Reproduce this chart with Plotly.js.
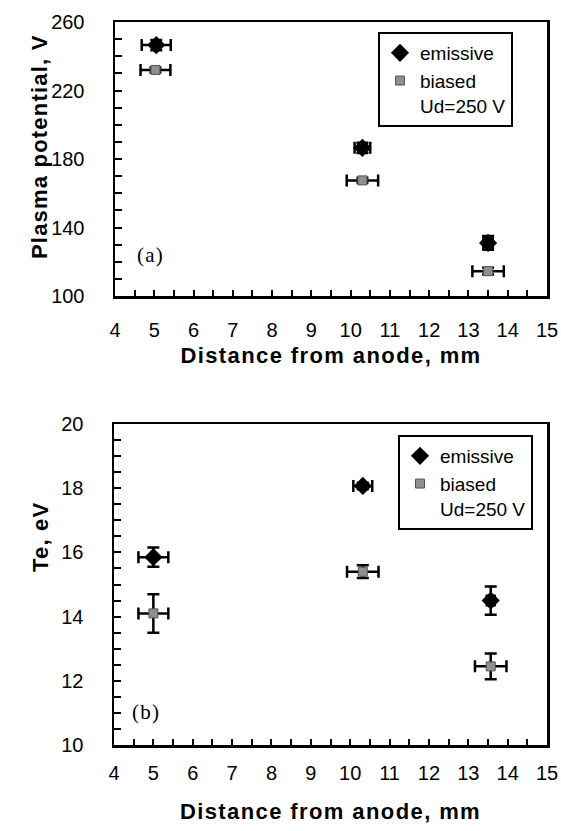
<!DOCTYPE html>
<html>
<head>
<meta charset="utf-8">
<script src="https://cdn.plot.ly/plotly-3.0.1.min.js"></script>
<style>
html,body{margin:0;padding:0;background:#fff;}
#chart{width:561px;height:831px;}
text.xtitle, text.x2title{letter-spacing:1.4px !important;}
.annotation-text{letter-spacing:1.2px !important;}
</style>
</head>
<body>
<div id="chart"></div>
<script>
// ---- Data (a): plasma potential ----
const xTicks = [4,5,6,7,8,9,10,11,12,13,14,15];
const aEmisX = [5.05, 10.30, 13.50];
const aEmisY = [246.5, 186.5, 131.0];
const aEmisXErr = [0.37, 0.20, 0.12];
const aEmisYErr = [3, 3, 4];
const aBiasX = [5.03, 10.30, 13.50];
const aBiasY = [232.0, 167.5, 114.5];
const aBiasXErr = [0.38, 0.40, 0.40];
const aBiasYErr = [1.5, 1.5, 2];

// ---- Data (b): electron temperature ----
const bEmisX = [5.00, 10.32, 13.57];
const bEmisY = [15.85, 18.07, 14.50];
const bEmisXErr = [0.38, 0.24, 0.10];
const bEmisYErr = [0.30, 0.10, 0.44];
const bBiasX = [5.00, 10.32, 13.57];
const bBiasY = [14.10, 15.40, 12.45];
const bBiasXErr = [0.38, 0.40, 0.40];
const bBiasYErr = [0.60, 0.20, 0.40];

const seriesNames = ['emissive', 'biased<br>Ud=250 V'];

const W = 561, H = 831;
const SANS = 'Liberation Sans, Arial, sans-serif';
const SERIF = 'Liberation Serif, Times New Roman, serif';

function errBar(a){return {type:'data', array:a, visible:true, color:'#000', thickness:2.5, width:6};}

const emisMarker = {symbol:'diamond', size:14, color:'#000', line:{width:0}};
const biasMarker = {symbol:'square', size:9, color:'#8f8f8f', line:{width:1, color:'#555'}};

const traces = [
  {x:aEmisX, y:aEmisY, error_x:errBar(aEmisXErr), error_y:errBar(aEmisYErr), mode:'markers', type:'scatter',
   marker:emisMarker, name:seriesNames[0], xaxis:'x', yaxis:'y', legend:'legend'},
  {x:aBiasX, y:aBiasY, error_x:errBar(aBiasXErr), error_y:errBar(aBiasYErr), mode:'markers', type:'scatter',
   marker:biasMarker, name:seriesNames[1], xaxis:'x', yaxis:'y', legend:'legend'},
  {x:bEmisX, y:bEmisY, error_x:errBar(bEmisXErr), error_y:errBar(bEmisYErr), mode:'markers', type:'scatter',
   marker:emisMarker, name:seriesNames[0], xaxis:'x2', yaxis:'y2', legend:'legend2'},
  {x:bBiasX, y:bBiasY, error_x:errBar(bBiasXErr), error_y:errBar(bBiasYErr), mode:'markers', type:'scatter',
   marker:biasMarker, name:seriesNames[1], xaxis:'x2', yaxis:'y2', legend:'legend2'}
];

function axisBase(extra){
  return Object.assign({
    showline:true, linewidth:2.5, linecolor:'#000', mirror:true,
    ticks:'inside', ticklen:6, tickwidth:2, tickcolor:'#000',
    showgrid:false, zeroline:false,
    tickfont:{family:SANS, size:20, color:'#000'},
    fixedrange:true
  }, extra);
}

const titleFont = {family:SANS, size:22, color:'#000', weight:'bold'};
const legendFont = {family:SANS, size:19, color:'#000'};

const layout = {
  width:W, height:H,
  margin:{l:0, r:0, t:0, b:0},
  paper_bgcolor:'#fff', plot_bgcolor:'#fff',
  showlegend:true,
  xaxis: axisBase({domain:[115/W, 547/W], range:[4,15], anchor:'y',
    tickvals:xTicks, ticklabelstandoff:14,
    minor:{dtick:0.5, ticks:'inside', ticklen:6, tickwidth:2, tickcolor:'#000', showgrid:false},
    title:{text:'Distance from anode, mm', font:titleFont, standoff:8}}),
  yaxis: axisBase({domain:[1-296/H, 1-22/H], range:[100,260], anchor:'x',
    dtick:40, tick0:100, ticklen:7, ticklabelstandoff:24,
    minor:{dtick:10, ticks:'inside', ticklen:7, tickwidth:2, tickcolor:'#000', showgrid:false}}),
  xaxis2: axisBase({domain:[114/W, 547/W], range:[4,15], anchor:'y2',
    tickvals:xTicks, ticklabelstandoff:8,
    minor:{dtick:0.5, ticks:'inside', ticklen:6, tickwidth:2, tickcolor:'#000', showgrid:false},
    title:{text:'Distance from anode, mm', font:titleFont, standoff:21}}),
  yaxis2: axisBase({domain:[1-745/H, 1-424/H], range:[10,20], anchor:'x2',
    dtick:2, tick0:10, ticklen:7, ticklabelstandoff:24,
    minor:{dtick:0.5, ticks:'inside', ticklen:7, tickwidth:2, tickcolor:'#000', showgrid:false}}),
  legend:{x:378/W, y:1-32/H, xanchor:'left', yanchor:'top', xref:'paper', yref:'paper',
    bgcolor:'#fff', bordercolor:'#000', borderwidth:2, valign:'top',
    font:legendFont, itemwidth:30, tracegroupgap:0},
  legend2:{x:398/W, y:1-435/H, xanchor:'left', yanchor:'top', xref:'paper', yref:'paper',
    bgcolor:'#fff', bordercolor:'#000', borderwidth:2, valign:'top',
    font:legendFont, itemwidth:30, tracegroupgap:0},
  annotations:[
    {text:'Plasma potential, V', xref:'paper', yref:'paper', x:40/W, y:1-147/H,
     textangle:-90, showarrow:false, xanchor:'center', yanchor:'middle',
     font:titleFont},
    {text:'Te, eV', xref:'paper', yref:'paper', x:40/W, y:1-537/H,
     textangle:-90, showarrow:false, xanchor:'center', yanchor:'middle',
     font:titleFont},
    {text:'(a)', xref:'paper', yref:'paper', x:135/W, y:1-255/H,
     showarrow:false, xanchor:'left', yanchor:'middle',
     font:{family:SERIF, size:21, color:'#000'}},
    {text:'(b)', xref:'paper', yref:'paper', x:130/W, y:1-712/H,
     showarrow:false, xanchor:'left', yanchor:'middle',
     font:{family:SERIF, size:21, color:'#000'}}
  ]
};

Plotly.newPlot('chart', traces, layout, {displayModeBar:false, staticPlot:true});
</script>
</body>
</html>
